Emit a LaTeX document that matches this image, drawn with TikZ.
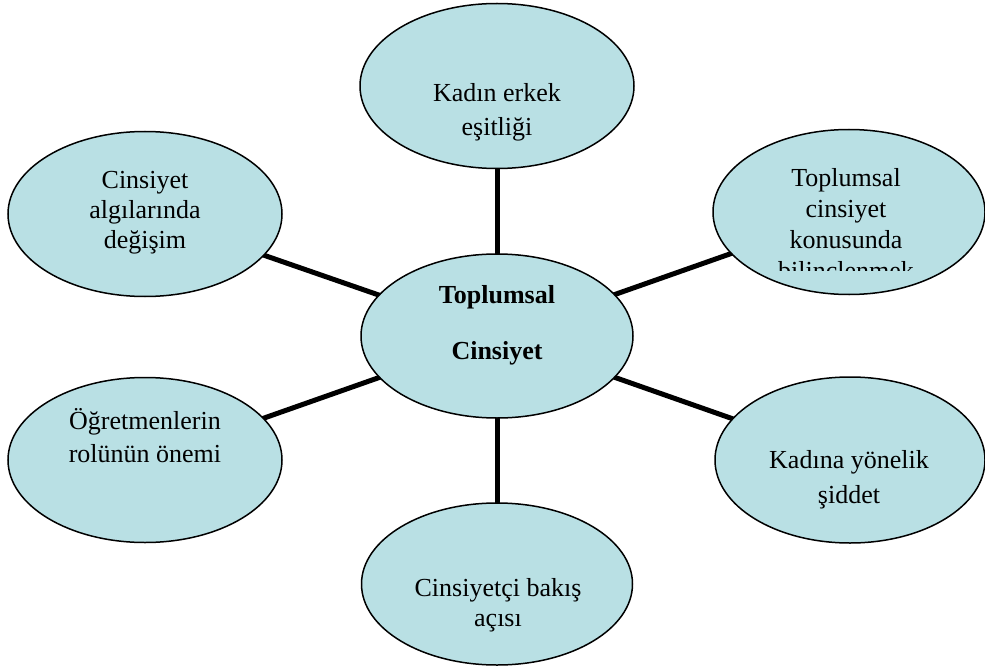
\documentclass[tikz,border=0pt]{standalone}
\usepackage{fontspec}
\setmainfont{Liberation Serif}
\usetikzlibrary{shapes.geometric}
\definecolor{bubble}{RGB}{185,224,228}
\tikzset{
  bub/.style={ellipse, draw=black, line width=1.5pt, fill=bubble, inner sep=0pt},
  txt/.style={align=center, font=\fontsize{26}{30}\selectfont, inner sep=0pt},
  link/.style={line width=5pt, black}
}
\begin{document}
\begin{tikzpicture}[x=1pt,y=-1pt]
\useasboundingbox (0,0) rectangle (985,666);
% connector anchors (ellipse shapes)
\path
  node[bub, minimum width=272pt, minimum height=164pt, draw=none, fill=none] (c)  at (497,336) {}
  node[bub, minimum width=274pt, minimum height=165pt, draw=none, fill=none] (t)  at (497,86) {}
  node[bub, minimum width=274pt, minimum height=165pt, draw=none, fill=none] (lt) at (145,214) {}
  node[bub, minimum width=272pt, minimum height=165pt, draw=none, fill=none] (rt) at (849,212) {}
  node[bub, minimum width=274pt, minimum height=165pt, draw=none, fill=none] (lb) at (145,460) {}
  node[bub, minimum width=270pt, minimum height=166pt, draw=none, fill=none] (rb) at (850,460) {}
  node[bub, minimum width=271pt, minimum height=162pt, draw=none, fill=none] (b)  at (497,584) {};
% connectors
\draw[link] (c.center) -- (t.center);
\draw[link] (c.center) -- (b.center);
\draw[link] (c.center) -- (lt.center);
\draw[link] (c.center) -- (rt.center);
\draw[link] (c.center) -- (lb.center);
\draw[link] (c.center) -- (rb.center);
% ellipses drawn over the connectors
\node[bub, minimum width=272pt, minimum height=164pt] (ec)  at (c)  {};
\node[bub, minimum width=274pt, minimum height=165pt] (et)  at (t)  {};
\node[bub, minimum width=274pt, minimum height=165pt] (elt) at (lt) {};
\node[bub, minimum width=272pt, minimum height=165pt] (ert) at (rt) {};
\node[bub, minimum width=274pt, minimum height=165pt] (elb) at (lb) {};
\node[bub, minimum width=270pt, minimum height=166pt] (erb) at (rb) {};
\node[bub, minimum width=271pt, minimum height=162pt] (eb)  at (b)  {};
% texts
\node[txt] (tc) at (497,325) {\bfseries Toplumsal\\[26pt]\bfseries Cinsiyet};
\node[txt, font=\fontsize{26}{34}\selectfont] (tt) at (497,112) {Kadın erkek\\eşitliği};
\node[txt] (tlt) at (145,213) {Cinsiyet\\algılarında\\değişim};
\begin{scope}
\clip (700,120) rectangle (985,270);
\node[txt, font=\fontsize{26}{31}\selectfont, anchor=north] (trt) at (846,168) {Toplumsal\\cinsiyet\\konusunda\\bilinçlenmek};
\end{scope}
\node[txt, font=\fontsize{26}{33}\selectfont] (tlb) at (145,436) {Öğretmenlerin\\rolünün önemi};
\node[txt, font=\fontsize{26}{35}\selectfont] (trb) at (849,480) {Kadına yönelik\\şiddet};
\node[txt] (tb) at (498,605) {Cinsiyetçi bakış\\açısı};
\end{tikzpicture}
\end{document}
